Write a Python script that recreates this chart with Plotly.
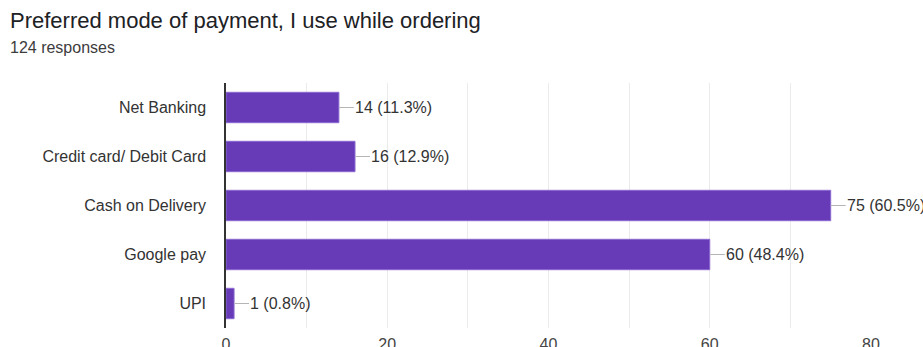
import plotly.graph_objects as go

# Survey results: preferred payment mode
categories = ["Net Banking", "Credit card/ Debit Card", "Cash on Delivery", "Google pay", "UPI"]
counts = [14, 16, 75, 60, 1]
total_responses = 124
x_ticks = [0, 20, 40, 60, 80]

labels = [f"{c} ({c / total_responses * 100:.1f}%)" for c in counts]

FONT = "Liberation Sans, Arial, sans-serif"
PURPLE = "#673ab7"

# plot-area geometry in pixels
W, H = 923, 347
ML, MR, MT, MB = 226, 52, 83, 19
plot_w = W - ML - MR
plot_h = H - MT - MB


def px_to_paper_x(px):
    return (px - ML) / plot_w


def px_to_paper_y(py):
    return (H - MB - py) / plot_h


fig = go.Figure()
fig.add_trace(go.Bar(
    y=categories,
    x=counts,
    orientation="h",
    width=0.62,
    marker=dict(color=PURPLE, line=dict(color="#8a68d0", width=1)),
    hoverinfo="skip",
))

# value labels with a short grey leader line
for cat, val, lab in zip(categories, counts, labels):
    fig.add_annotation(
        x=val, y=cat, xref="x", yref="y",
        text=lab, showarrow=True, arrowhead=0, arrowwidth=1.2,
        arrowcolor="#b5b5b5", ax=15, ay=0, standoff=0,
        xanchor="left", yanchor="middle",
        font=dict(family=FONT, size=16, color="#333333"),
        borderpad=0,
    )

fig.add_annotation(
    text="Preferred mode of payment, I use while ordering",
    xref="paper", yref="paper", x=px_to_paper_x(8), y=px_to_paper_y(20),
    xanchor="left", yanchor="middle",
    showarrow=False, font=dict(family=FONT, size=22, color="#202124"),
)
fig.add_annotation(
    text=f"{total_responses} responses",
    xref="paper", yref="paper", x=px_to_paper_x(8), y=px_to_paper_y(47),
    xanchor="left", yanchor="middle",
    showarrow=False, font=dict(family=FONT, size=16, color="#3c3c3c"),
)

fig.update_layout(
    width=W, height=H,
    margin=dict(l=ML, r=MR, t=MT, b=MB, autoexpand=False),
    paper_bgcolor="white", plot_bgcolor="white",
    showlegend=False,
    font=dict(family=FONT, size=16, color="#333333"),
    xaxis=dict(
        range=[0, 80], tickvals=x_ticks, ticktext=[str(t) for t in x_ticks],
        showgrid=True, gridcolor="#ebebeb", gridwidth=1,
        zeroline=False, showline=False, automargin=False,
        ticks="outside", ticklen=2, tickcolor="rgba(0,0,0,0)",
        minor=dict(dtick=10, tick0=0, showgrid=True, gridcolor="#ebebeb"),
        tickfont=dict(family=FONT, size=16, color="#444444"),
    ),
    yaxis=dict(
        categoryorder="array", categoryarray=categories, autorange="reversed",
        showgrid=False, zeroline=False, automargin=False,
        showline=True, linecolor="#333333", linewidth=1.5,
        ticks="outside", ticklen=15, tickcolor="rgba(0,0,0,0)",
        tickfont=dict(family=FONT, size=16, color="#333333"),
    ),
)

fig.write_html("out.html")
